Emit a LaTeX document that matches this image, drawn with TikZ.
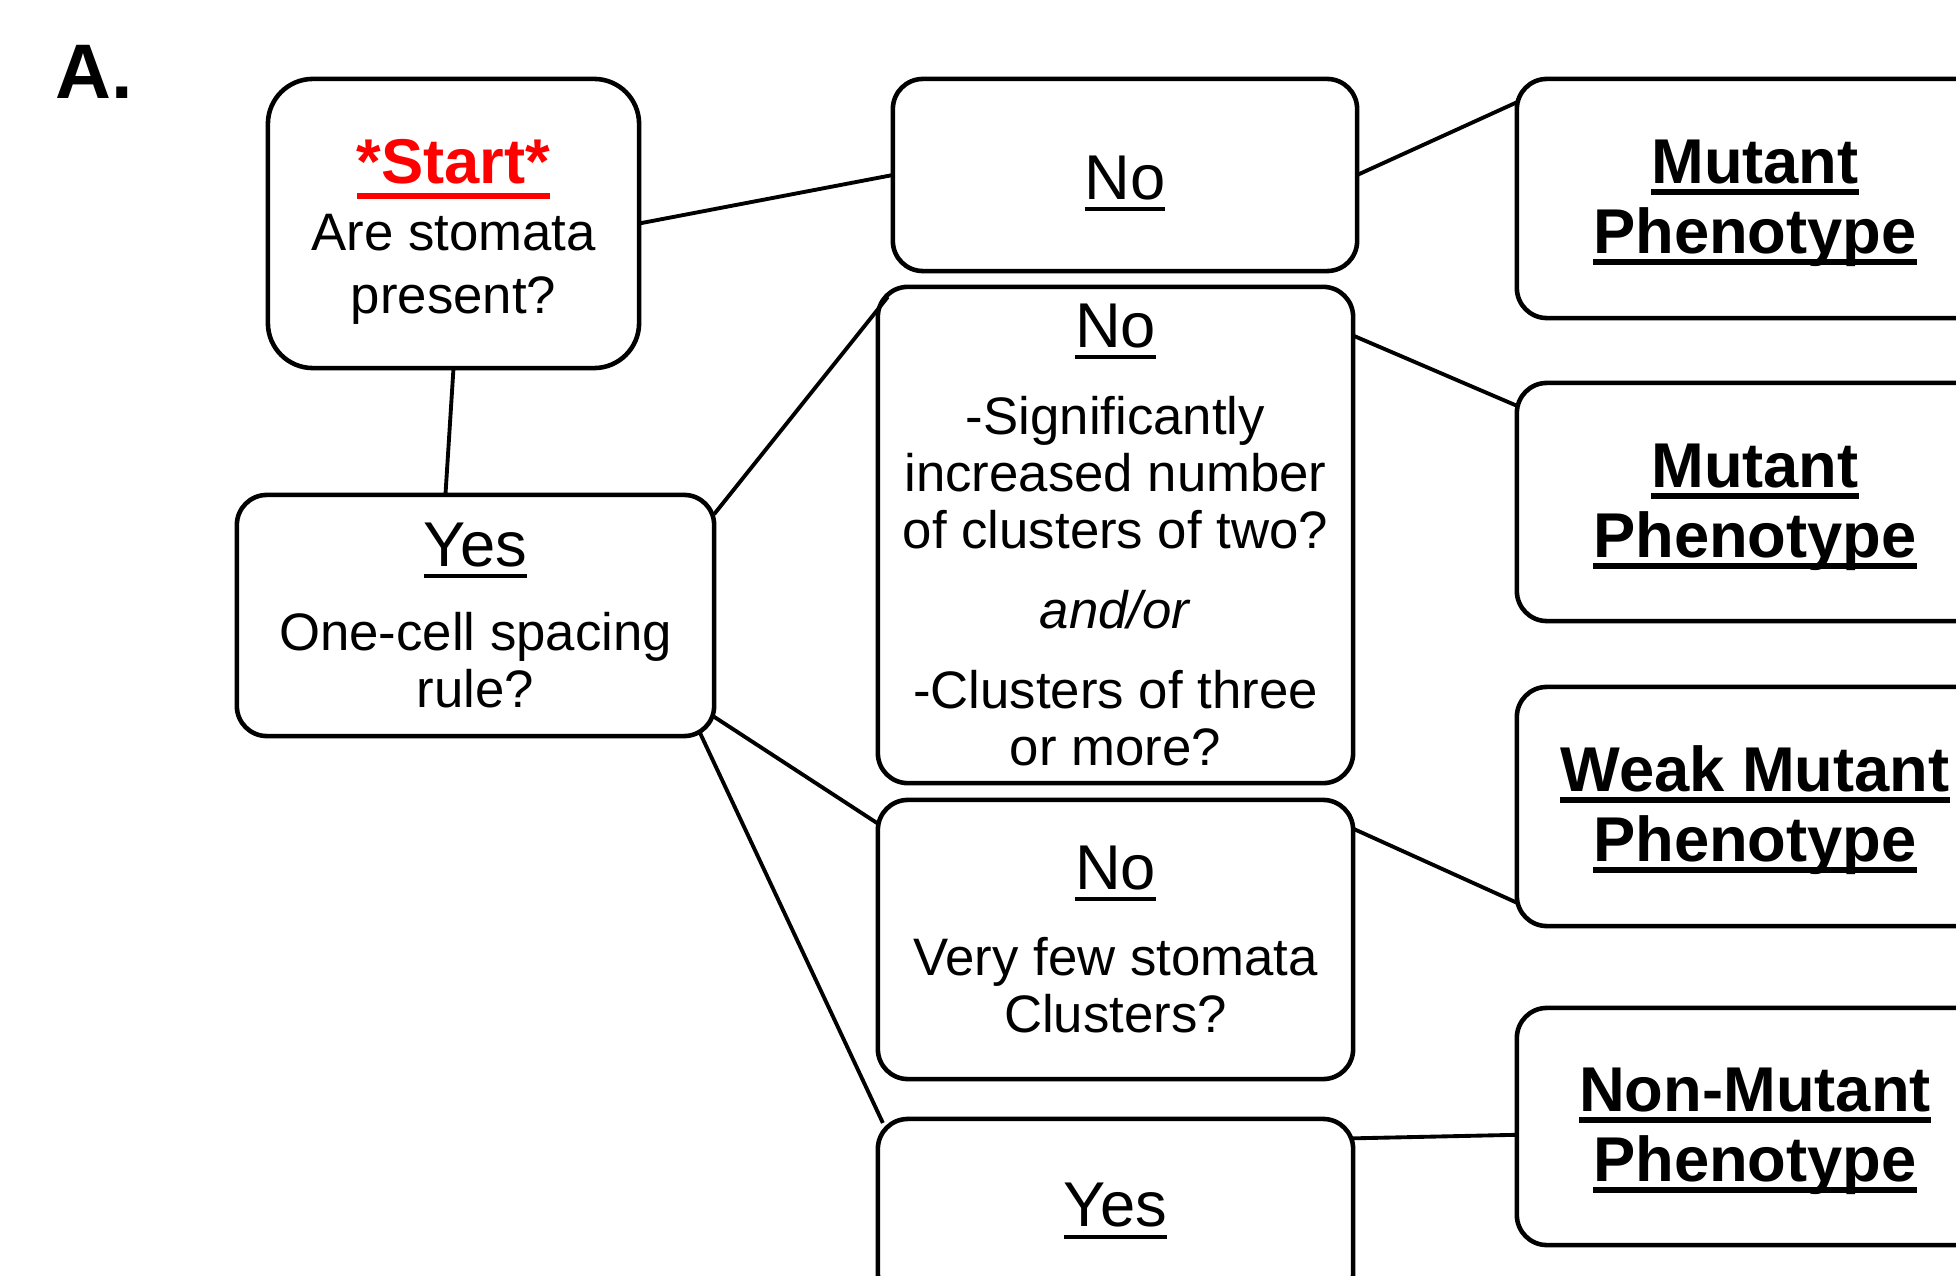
\documentclass[tikz,border=0pt]{standalone}
\usepackage{fontspec}
\setmainfont{Liberation Sans}

% underline with a rule of chosen thickness
\newsavebox\ulbox
\newcommand{\uln}[2][1.1pt]{\sbox\ulbox{#2}\rlap{\rule[-3.3pt]{\wd\ulbox}{#1}}\usebox\ulbox}
\newcommand{\ulstart}[1]{\sbox\ulbox{#1}\rlap{\rule[-4.4pt]{\wd\ulbox}{1.8pt}}\usebox\ulbox}
\newcommand{\ulb}[1]{\rule{0pt}{15.2pt}\uln[1.7pt]{#1}}
\newcommand{\hd}[1]{{\fontsize{18}{20}\selectfont\uln{#1}}}

\begin{document}
\begin{tikzpicture}[
            x = 0.01cm, y = -0.01cm, % one unit per pixel, y downwards
            box/.style = {draw, line width = 1.3pt, rounded corners = 3mm,
                outer sep = 0pt, inner sep = 2pt, align = center},
            ask/.style = {box, minimum width = 4.75cm,
                font = \fontsize{15}{16.2}\selectfont},
            pheno/.style = {box, minimum width = 4.76cm,
                font = \bfseries\fontsize{18}{19.9}\selectfont},
            link/.style = {line width = 1.1pt}
        ]

        \useasboundingbox (0,0) rectangle (1956,1276);
        \clip (0,0) rectangle (1956,1276);

        \node[font = \bfseries\fontsize{22}{26}\selectfont, anchor = base west, inner sep = 0pt] (panel) at (55,99) {A.};

	% questions
        \node[ask, minimum width = 3.71cm, minimum height = 2.89cm, rounded corners = 4.5mm,
            font = \fontsize{15}{17.9}\selectfont] (start) at (453.5,223.5)
            {\rule{0pt}{17.5pt}{\color{red}\bfseries\fontsize{18}{20}\selectfont\ulstart{*Start*}}\\[1.2pt]
             Are stomata\\present?};
        \node[ask, minimum width = 4.64cm, minimum height = 1.92cm] (no1) at (1125,175)
            {\rule{0pt}{17pt}\hd{No}};
        \node[ask, minimum width = 4.77cm, minimum height = 2.41cm] (yes1) at (475.5,615.5)
            {\hd{Yes}\\[7.6pt] One-cell spacing\\rule?};
        \node[ask, minimum height = 4.96cm] (no2) at (1115.5,535)
            {\hd{No}\\[8.5pt] -Significantly\\increased number\\of clusters of two?\\[6.7pt]
             \textit{and/or}\\[6.6pt] -Clusters of three\\or more?};
        \node[ask, minimum height = 2.79cm] (no3) at (1115.5,939.5)
            {\hd{No}\\[8.3pt] Very few stomata\\Clusters?};
        \node[ask, minimum height = 1.84cm] (yes2) at (1115.5,1211) {\hd{Yes}};

	% phenotypes
        \node[pheno, minimum height = 2.39cm] (mut1) at (1755,198.5) {\ulb{Mutant}\\\ulb{Phenotype}};
        \node[pheno, minimum height = 2.38cm] (mut2) at (1755,502) {\ulb{Mutant}\\\ulb{Phenotype}};
        \node[pheno, minimum height = 2.39cm] (weak) at (1755,806.5) {\ulb{Weak Mutant}\\\ulb{Phenotype}};
        \node[pheno, minimum height = 2.37cm] (nonmut) at (1755,1126.5) {\ulb{Non-Mutant}\\\ulb{Phenotype}};

	% links
        \draw[link] (start.east) -- (no1.west);
        \draw[link] (start.south) -- (yes1.104);
        \draw[link] (no1.east) -- (mut1.158);
        \draw[link] (yes1.23) -- ([shift={(10,10)}]no2.north west);
        \draw[link] (no2.40) -- (mut2.158);
        \draw[link] (yes1.337) -- (no3.154);
        \draw[link] ([shift={(-15,-5)}]yes1.south east) -- ([shift={(5,4)}]yes2.north west);
        \draw[link] (no3.25) -- (weak.202);
        \draw[link] (yes2.17) -- (nonmut.182);

\end{tikzpicture}
\end{document}
